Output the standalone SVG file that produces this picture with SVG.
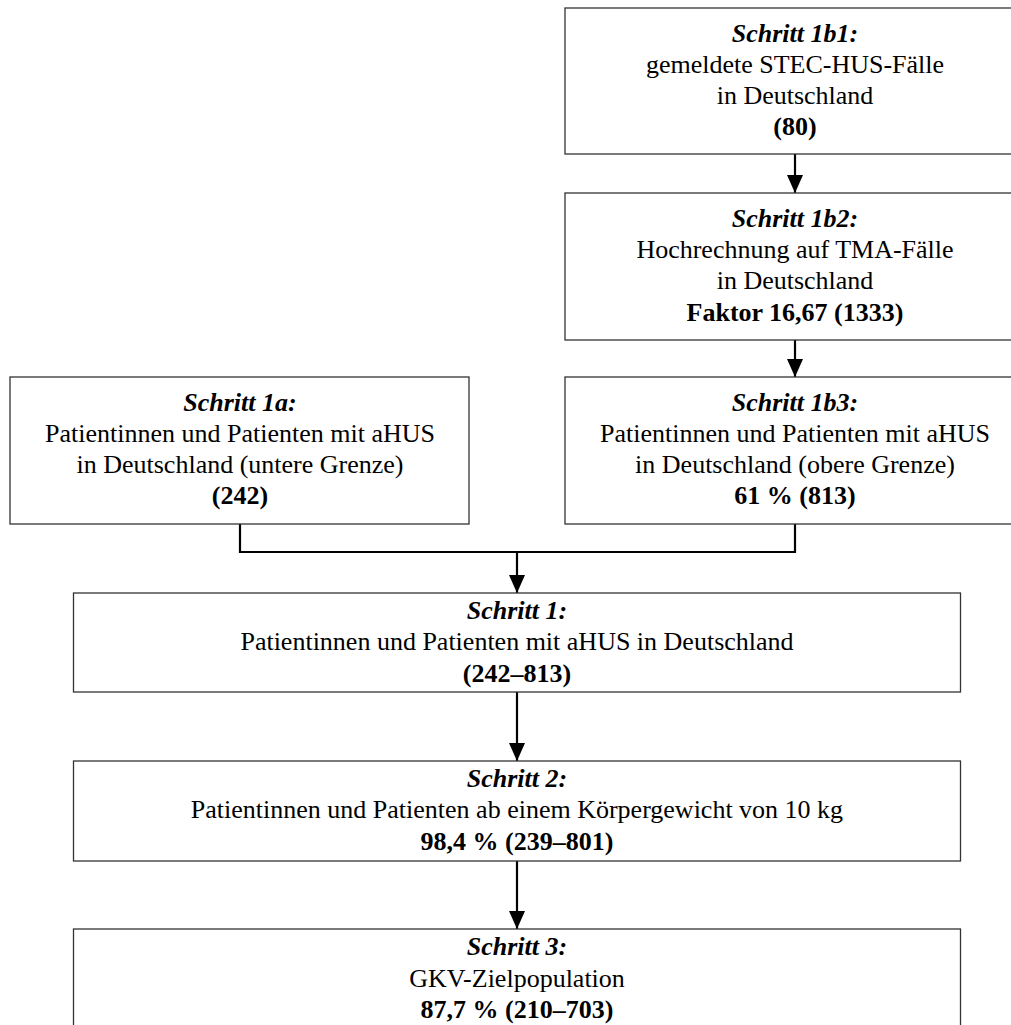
<svg xmlns="http://www.w3.org/2000/svg" width="1011" height="1025" viewBox="0 0 1011 1025">
<defs>
<marker id="ah" viewBox="0 0 18 16" refX="18" refY="8" markerWidth="18" markerHeight="16" markerUnits="userSpaceOnUse" orient="auto">
<path d="M0,0 L18,8 L0,16 z" fill="#000"/>
</marker>
<style>
.box{fill:#fff;stroke:#333;stroke-width:1.3}
text{font-family:"Liberation Serif","Times New Roman",serif;font-size:26px;fill:#000;text-anchor:middle}
.h{font-weight:bold;font-style:italic}
.b{font-weight:bold}
.c{fill:none;stroke:#000;stroke-width:2.2}
</style>
</defs>
<rect width="1011" height="1025" fill="#fff"/>
<g id="connectors">
<line class="c" x1="795" y1="154" x2="795" y2="193" marker-end="url(#ah)"/>
<line class="c" x1="795" y1="340" x2="795" y2="377" marker-end="url(#ah)"/>
<polyline class="c" points="240,524 240,552 795,552 795,524"/>
<line class="c" x1="517" y1="551" x2="517" y2="593" marker-end="url(#ah)"/>
<line class="c" x1="517" y1="692" x2="517" y2="761" marker-end="url(#ah)"/>
<line class="c" x1="517" y1="861" x2="517" y2="929" marker-end="url(#ah)"/>
</g>
<g id="n1b1">
<rect class="box" x="565" y="8" width="460" height="146"/>
<text x="795" y="42" class="h">Schritt 1b1:</text>
<text x="795" y="73">gemeldete STEC-HUS-Fälle</text>
<text x="795" y="104">in Deutschland</text>
<text x="795" y="135" class="b">(80)</text>
</g>
<g id="n1b2">
<rect class="box" x="565" y="193" width="460" height="147"/>
<text x="795" y="227" class="h">Schritt 1b2:</text>
<text x="795" y="258">Hochrechnung auf TMA-Fälle</text>
<text x="795" y="289">in Deutschland</text>
<text x="795" y="321" class="b">Faktor 16,67 (1333)</text>
</g>
<g id="n1a">
<rect class="box" x="10" y="377" width="459" height="147"/>
<text x="240" y="411" class="h">Schritt 1a:</text>
<text x="240" y="442">Patientinnen und Patienten mit aHUS</text>
<text x="240" y="473">in Deutschland (untere Grenze)</text>
<text x="240" y="504" class="b">(242)</text>
</g>
<g id="n1b3">
<rect class="box" x="565" y="377" width="460" height="147"/>
<text x="795" y="411" class="h">Schritt 1b3:</text>
<text x="795" y="442">Patientinnen und Patienten mit aHUS</text>
<text x="795" y="473">in Deutschland (obere Grenze)</text>
<text x="795" y="504" class="b">61 % (813)</text>
</g>
<g id="n1">
<rect class="box" x="73.5" y="593" width="887" height="99"/>
<text x="517" y="619" class="h">Schritt 1:</text>
<text x="517" y="650">Patientinnen und Patienten mit aHUS in Deutschland</text>
<text x="517" y="682" class="b">(242–813)</text>
</g>
<g id="n2">
<rect class="box" x="73.5" y="761" width="887" height="100"/>
<text x="517" y="787" class="h">Schritt 2:</text>
<text x="517" y="818">Patientinnen und Patienten ab einem Körpergewicht von 10 kg</text>
<text x="517" y="850" class="b">98,4 % (239–801)</text>
</g>
<g id="n3">
<rect class="box" x="73.5" y="929" width="887" height="110"/>
<text x="517" y="955" class="h">Schritt 3:</text>
<text x="517" y="987">GKV-Zielpopulation</text>
<text x="517" y="1018" class="b">87,7 % (210–703)</text>
</g>
</svg>
